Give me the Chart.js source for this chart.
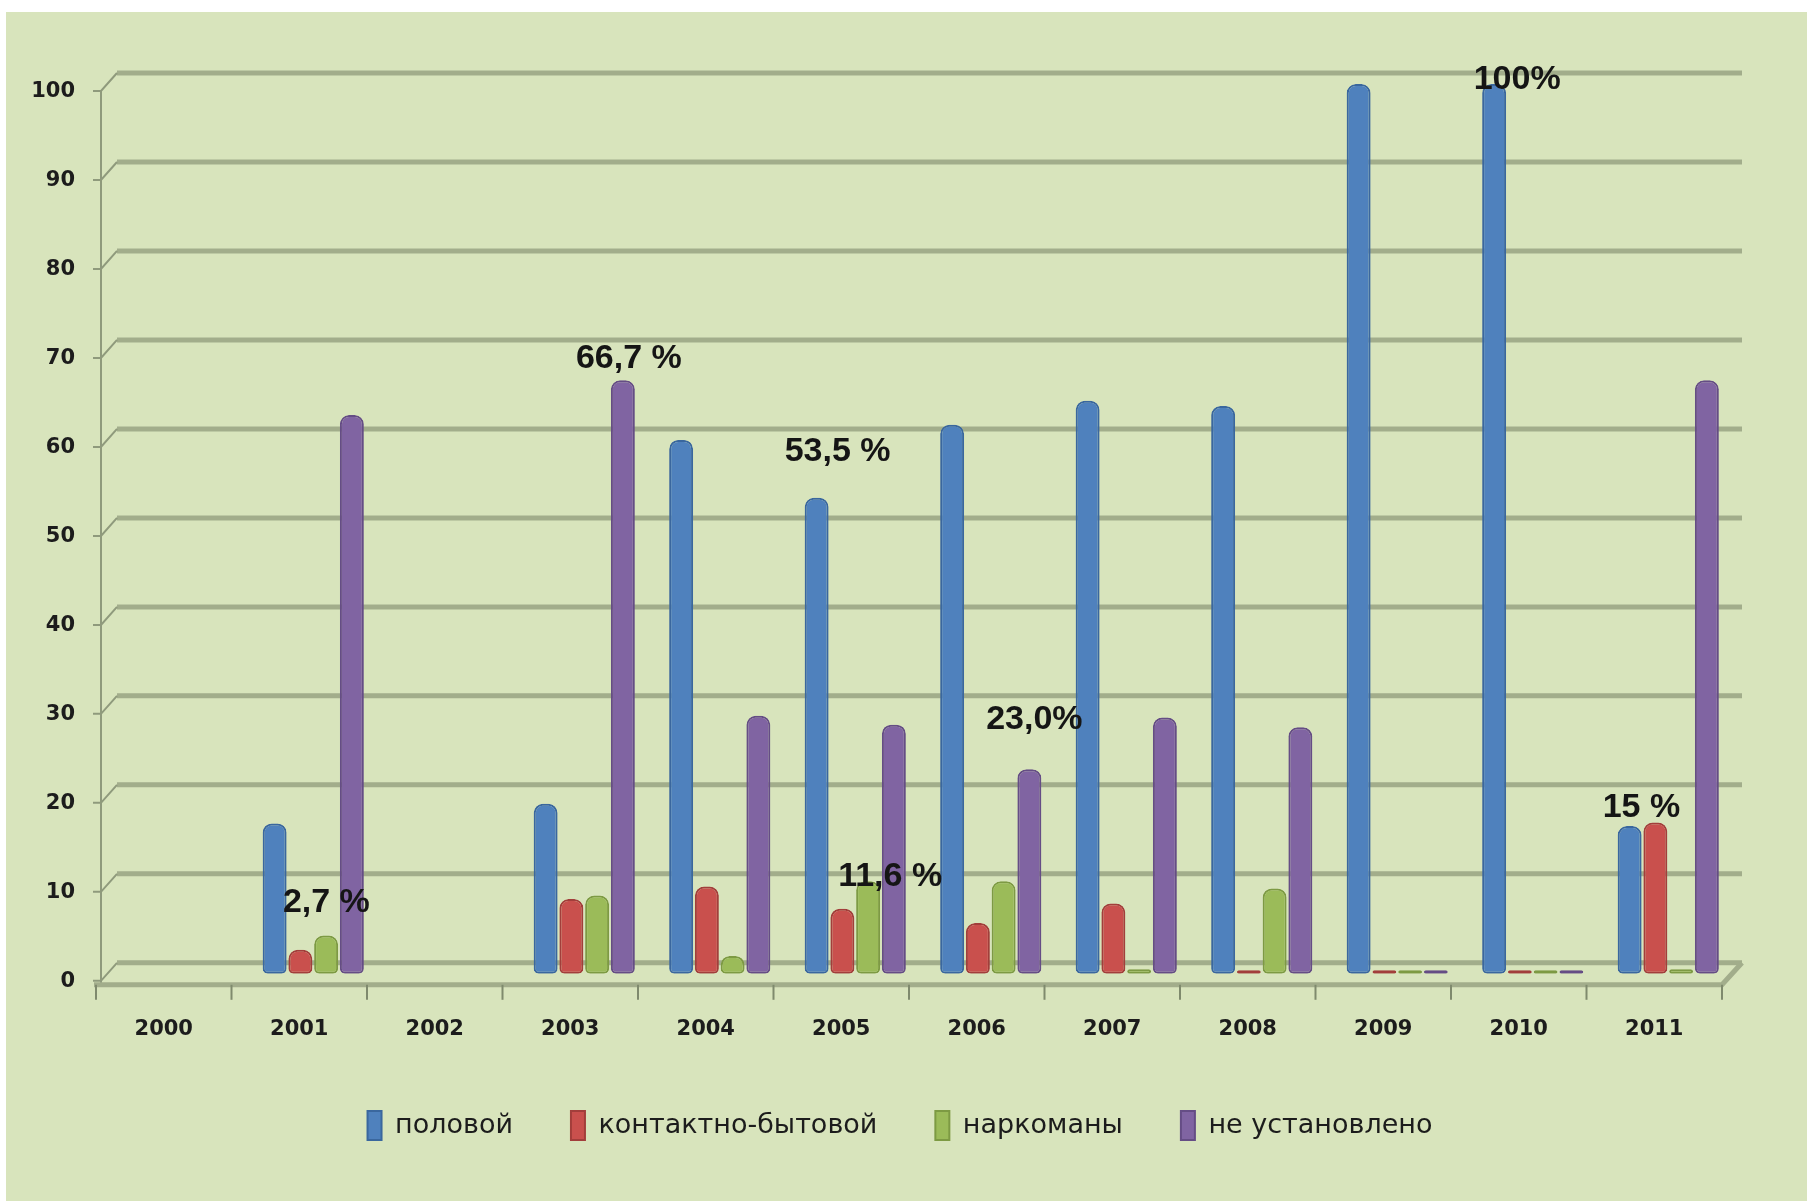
<!DOCTYPE html>
<html>
<head>
<meta charset="utf-8">
<script src="https://cdn.jsdelivr.net/npm/chart.js@4"></script>
<style>
  html, body { margin: 0; padding: 0; background: #ffffff; }
  #wrap { width: 1816px; height: 1201px; position: relative; }
</style>
</head>
<body>
<div id="wrap"><canvas id="hiv-chart" width="1816" height="1201"></canvas></div>
<script>
var years = ['2000','2001','2002','2003','2004','2005','2006','2007','2008','2009','2010','2011'];

var sexual      = [null, 16.9, null, 19.1, 60,  53.5, 61.7, 64.4, 63.8, 100, 100, 16.6];
var household   = [null, 2.7,  null, 8.4,  9.8, 7.3,  5.7,  7.9,  0.4,  0.4, 0.4, 17];
var drugUsers   = [null, 4.3,  null, 8.8,  2,   10.4, 10.4, 0.5,  9.6,  0.4, 0.4, 0.5];
var unknown     = [null, 62.8, null, 66.7, 29,  28,   23,   28.8, 27.7, 0.4, 0.4, 66.7];

var seriesNames = ['половой', 'контактно-бытовой', 'наркоманы', 'не установлено'];

var yTicks = [0, 10, 20, 30, 40, 50, 60, 70, 80, 90, 100];

// percentage notes written over the bars: [series, year index, text]
var notes = [
    [1, 1, '2,7 %'],
    [3, 3, '66,7 %'],
    [0, 5, '53,5 %'],
    [2, 5, '11,6 %'],
    [3, 6, '23,0%'],
    [0, 10, '100%'],
    [1, 11, '15 %']
];
// where each note sits relative to the top of its bar
var noteOffsets = [[26, -47], [6, -22], [21, -46], [22, -5], [5, -50], [23, -4], [-14, -15]];

var depthX = 14;   // bars sit a little "behind" the front axis

function $each(arr, fn) { for (var i = 0; i < arr.length; i++) fn(arr[i], i); }

var wallPlugin = {
    id: 'wall',
    beforeDraw: function (chart) {
        var ctx = chart.ctx;
        ctx.save();
        ctx.fillStyle = '#d8e4bc';
        ctx.fillRect(6, 12, 1801, 1189);
        ctx.restore();
    },
    afterLayout: function (chart) {
        // legend sits centred on the whole panel, not the padded box
        chart.legend.left += 39;
        chart.legend.right += 39;
    },
    beforeDatasetsDraw: function (chart) {
        var ctx = chart.ctx;
        var y = chart.scales.y;
        var x = chart.scales.x;
        var left = x.left, right = x.right;
        var ax = left + 5;
        var dx = 16, dy = 11, lift = 7;
        var y0 = y.getPixelForValue(0);

        ctx.save();
        // back wall grid lines with little slanted joints
        $each(yTicks, function (v) {
            var py = y.getPixelForValue(v);
            ctx.strokeStyle = '#a2ad8b';
            ctx.lineWidth = 5;
            ctx.beginPath();
            ctx.moveTo(ax + dx, py - dy);
            ctx.lineTo(right + dx + 4, py - dy);
            ctx.stroke();
            ctx.strokeStyle = '#8f9a7c';
            ctx.lineWidth = 2;
            ctx.beginPath();
            ctx.moveTo(ax - 8, py + lift);
            ctx.lineTo(ax, py + lift);
            ctx.lineTo(ax + dx, py - dy);
            ctx.stroke();
        });
        // vertical axis
        ctx.strokeStyle = '#8f9a7c';
        ctx.lineWidth = 2;
        ctx.beginPath();
        ctx.moveTo(ax, y.getPixelForValue(100) + lift);
        ctx.lineTo(ax, y0 + 12);
        ctx.stroke();
        // floor front edge
        ctx.strokeStyle = '#a2ad8b';
        ctx.lineWidth = 5;
        ctx.beginPath();
        ctx.moveTo(left - 2, y0 + 11);
        ctx.lineTo(right, y0 + 11);
        ctx.lineTo(right + dx + 4, y0 - dy);
        ctx.stroke();
        // category tick marks
        ctx.strokeStyle = '#7f8a6d';
        ctx.lineWidth = 2;
        var w = (right - left) / years.length;
        for (var i = 0; i <= years.length; i++) {
            var px = left + i * w;
            ctx.beginPath();
            ctx.moveTo(px, y0 + 11);
            ctx.lineTo(px, y0 + 26);
            ctx.stroke();
        }
        ctx.restore();

        ctx.save();
        ctx.translate(depthX, 0);
    },
    afterDatasetsDraw: function (chart) {
        var ctx = chart.ctx;
        ctx.font = 'bold 34px "Liberation Sans Narrow", "Liberation Sans", sans-serif';
        ctx.fillStyle = '#151515';
        ctx.textAlign = 'center';
        ctx.textBaseline = 'middle';
        notes.forEach(function (n, k) {
            var bar = chart.getDatasetMeta(n[0]).data[n[1]];
            ctx.fillText(n[2], bar.x + noteOffsets[k][0], bar.y + noteOffsets[k][1]);
        });
        ctx.restore();
    }
};

function barSet(label, values, fill, edge) {
    return {
        label: label,
        data: values,
        backgroundColor: fill,
        borderColor: edge,
        borderWidth: 2,
        borderSkipped: false,
        borderRadius: { topLeft: 9, topRight: 9, bottomLeft: 5, bottomRight: 5 },
        categoryPercentage: 0.76,
        barPercentage: 0.93
    };
}

var ctx = document.getElementById('hiv-chart');
var HivChart = new Chart(ctx, {
    type: 'bar',
    data: {
        labels: years,
        datasets: [
            barSet(seriesNames[0], sexual, '#4f81bd', '#3a679e'),
            barSet(seriesNames[1], household, '#c9504d', '#a23e3b'),
            barSet(seriesNames[2], drugUsers, '#9bbb59', '#7d9a43'),
            barSet(seriesNames[3], unknown, '#8064a2', '#654d85')
        ]
    },
    options: {
        responsive: false,
        animation: false,
        layout: { padding: { left: 0, right: 94, top: 84, bottom: 51 } },
        plugins: {
            tooltip: { enabled: false },
            legend: {
                position: 'bottom',
                labels: {
                    boxWidth: 14,
                    boxHeight: 29,
                    padding: 58,
                    color: '#1c1c1c',
                    font: { family: 'DejaVu Sans', size: 27 }
                }
            }
        },
        scales: {
            x: {
                afterFit: function (scale) { scale.height = scale.height - 32; },
                grid: { display: false, drawTicks: false },
                border: { display: false },
                ticks: {
                    padding: 43,
                    color: '#1c1c1c',
                    font: { family: 'DejaVu Sans', size: 21, weight: 'bold' }
                }
            },
            y: {
                min: 0,
                max: 100,
                afterFit: function (scale) { scale.width = 96; },
                grid: { display: false, drawTicks: false },
                border: { display: false },
                ticks: {
                    stepSize: 10,
                    padding: 21,
                    labelOffset: 8,
                    color: '#1c1c1c',
                    font: { family: 'DejaVu Sans', size: 21, weight: 'bold' }
                }
            }
        }
    },
    plugins: [wallPlugin]
});
</script>
</body>
</html>
